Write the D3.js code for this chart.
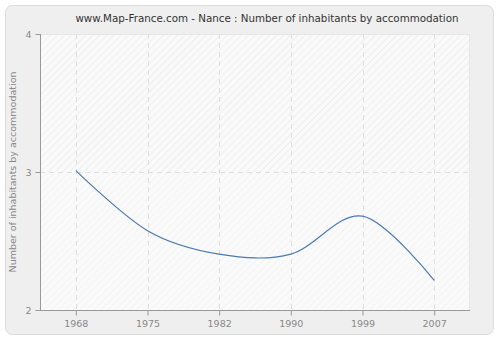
<!DOCTYPE html>
<html lang="en">
<head>
<meta charset="UTF-8">
<title>Nance - inhabitants by accommodation</title>
<script src="https://d3js.org/d3.v7.min.js"></script>
<style>
    body { margin: 0; background: #fff; }
    svg text { font-family: "DejaVu Sans", Verdana, sans-serif; }
</style>
</head>
<body>
<div id="chart"></div>
<script>
    // data
    var years = ['1968', '1975', '1982', '1990', '1999', '2007'];
    var values = [3.01, 2.575, 2.405, 2.405, 2.68, 2.215];
    var yTicks = [2, 3, 4];

    var width = 500, height = 340;
    var margin = {top: 34, right: 30, bottom: 30, left: 40};

    var svg = d3.select('#chart').append('svg')
        .attr('width', width)
        .attr('height', height);

    var defs = svg.append('defs');
    // hatch patterns for the plot background
    function hatch(id, bg, lineColor) {
        var p = defs.append('pattern').attr('id', id)
            .attr('patternUnits', 'userSpaceOnUse')
            .attr('width', 5).attr('height', 5)
            .attr('patternTransform', 'rotate(45)');
        p.append('rect').attr('width', 5).attr('height', 5).attr('fill', bg);
        p.append('line').attr('x1', 0).attr('y1', 0).attr('x2', 0).attr('y2', 5)
            .attr('stroke', lineColor).attr('stroke-width', 1.5);
    }
    hatch('hatchTop', '#fafafa', '#ececec');
    hatch('hatchBottom', '#fafafa', '#f3f3f3');

    // outer panel
    svg.append('rect')
        .attr('x', 5.5).attr('y', 5.5)
        .attr('width', 488).attr('height', 329)
        .attr('rx', 7)
        .attr('fill', '#efefef')
        .attr('stroke', '#dcdcdc');

    var x = d3.scalePoint()
        .domain(years)
        .range([margin.left, width - margin.right])
        .padding(0.5);

    var y = d3.scaleLinear()
        .domain([2, 4])
        .range([height - margin.bottom, margin.top]);

    var plotW = width - margin.right - margin.left;

    // plot background, stronger hatch above 3
    svg.append('rect')
        .attr('x', margin.left).attr('y', y(4))
        .attr('width', plotW).attr('height', y(3) - y(4))
        .attr('fill', 'url(#hatchTop)');
    svg.append('rect')
        .attr('x', margin.left).attr('y', y(3))
        .attr('width', plotW).attr('height', y(2) - y(3))
        .attr('fill', 'url(#hatchBottom)');
    svg.append('line')
        .attr('x1', margin.left).attr('x2', width - margin.right)
        .attr('y1', y(4) + 0.5).attr('y2', y(4) + 0.5)
        .attr('stroke', '#e6e6e6');
    svg.append('line')
        .attr('x1', width - margin.right - 0.5).attr('x2', width - margin.right - 0.5)
        .attr('y1', y(4)).attr('y2', y(2))
        .attr('stroke', '#e6e6e6');

    // grid
    svg.append('g').selectAll('line.vgrid')
        .data(years)
        .join('line')
        .attr('x1', function (d) { return Math.round(x(d)) + 0.5; })
        .attr('x2', function (d) { return Math.round(x(d)) + 0.5; })
        .attr('y1', y(4)).attr('y2', y(2))
        .attr('stroke', '#dedede')
        .attr('stroke-dasharray', '5,4');
    svg.append('line')
        .attr('x1', margin.left).attr('x2', width - margin.right)
        .attr('y1', Math.round(y(3)) + 0.5).attr('y2', Math.round(y(3)) + 0.5)
        .attr('stroke', '#dedede')
        .attr('stroke-dasharray', '5,4');

    // axes
    var xAxis = d3.axisBottom(x).tickSize(5).tickPadding(5);
    var yAxis = d3.axisLeft(y).tickValues(yTicks).tickFormat(d3.format('d')).tickSize(5).tickPadding(4);

    var gx = svg.append('g')
        .attr('transform', 'translate(0,' + (y(2) + 0.5) + ')')
        .call(xAxis);
    var gy = svg.append('g')
        .attr('transform', 'translate(' + (margin.left + 0.5) + ',0)')
        .call(yAxis);

    [gx, gy].forEach(function (g) {
        g.select('.domain').attr('stroke', '#999');
        g.selectAll('.tick line').attr('stroke', '#999');
        g.selectAll('.tick text').attr('fill', '#888').attr('font-size', 9.5)
            .attr('font-family', '"DejaVu Sans", Verdana, sans-serif');
    });
    gx.select('.domain').attr('d', 'M' + margin.left + ',0H' + (width - margin.right));
    gy.select('.domain').attr('d', 'M0,' + y(2) + 'V' + y(4));

    // line
    var line = d3.line()
        .x(function (d, i) { return x(years[i]); })
        .y(function (d) { return y(d); })
        .curve(d3.curveCatmullRom.alpha(0));

    svg.append('path')
        .datum(values)
        .attr('d', line)
        .attr('fill', 'none')
        .attr('stroke', '#4a79b4')
        .attr('stroke-width', 1.2);

    // title
    svg.append('text')
        .attr('x', 267).attr('y', 22)
        .attr('text-anchor', 'middle')
        .attr('font-size', 10.3)
        .attr('fill', '#333')
        .text('www.Map-France.com - Nance : Number of inhabitants by accommodation');

    // y label
    svg.append('text')
        .attr('transform', 'translate(16,' + y(3) + ') rotate(-90)')
        .attr('text-anchor', 'middle')
        .attr('font-size', 9.5)
        .attr('fill', '#888')
        .text('Number of inhabitants by accommodation');
</script>
</body>
</html>
